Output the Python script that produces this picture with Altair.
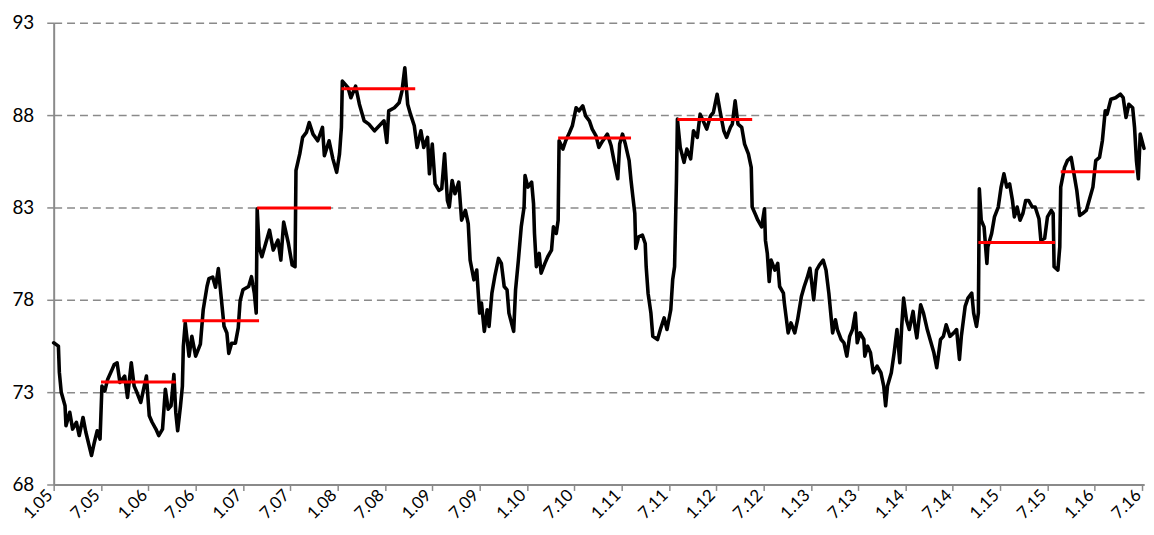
import altair as alt
import pandas as pd

# time in fractional years, price values
t = [
    2005.00, 2005.05, 2005.06, 2005.08, 2005.12, 2005.13, 2005.17, 2005.20, 2005.24, 2005.27,
    2005.31, 2005.34, 2005.40, 2005.43, 2005.46, 2005.49, 2005.51, 2005.54, 2005.57, 2005.61,
    2005.64, 2005.67, 2005.70, 2005.75, 2005.78, 2005.82, 2005.85, 2005.88, 2005.92, 2005.95,
    2005.98, 2006.01, 2006.04, 2006.08, 2006.11, 2006.15, 2006.18, 2006.21, 2006.24, 2006.27,
    2006.29, 2006.31, 2006.34, 2006.36, 2006.37, 2006.39, 2006.43, 2006.46, 2006.50, 2006.55,
    2006.58, 2006.62, 2006.64, 2006.68, 2006.71, 2006.74, 2006.77, 2006.80, 2006.83, 2006.85,
    2006.88, 2006.92, 2006.95, 2006.97, 2007.00, 2007.06, 2007.09, 2007.12, 2007.14, 2007.15,
    2007.17, 2007.20, 2007.23, 2007.28, 2007.32, 2007.37, 2007.40, 2007.43, 2007.48, 2007.52,
    2007.55, 2007.56, 2007.60, 2007.63, 2007.67, 2007.70, 2007.74, 2007.79, 2007.84, 2007.86,
    2007.91, 2007.95, 2007.99, 2008.02, 2008.04, 2008.05, 2008.11, 2008.14, 2008.19, 2008.23,
    2008.28, 2008.33, 2008.39, 2008.44, 2008.49, 2008.52, 2008.54, 2008.60, 2008.65, 2008.68,
    2008.71, 2008.74, 2008.77, 2008.81, 2008.84, 2008.88, 2008.91, 2008.95, 2008.97, 2009.00,
    2009.03, 2009.07, 2009.10, 2009.13, 2009.16, 2009.18, 2009.21, 2009.24, 2009.28, 2009.31,
    2009.35, 2009.38, 2009.40, 2009.44, 2009.47, 2009.50, 2009.52, 2009.55, 2009.58, 2009.60,
    2009.63, 2009.66, 2009.70, 2009.73, 2009.76, 2009.79, 2009.81, 2009.86, 2009.88, 2009.91,
    2009.94, 2009.97, 2009.98, 2010.01, 2010.05, 2010.07, 2010.08, 2010.10, 2010.13, 2010.15,
    2010.19, 2010.22, 2010.26, 2010.28, 2010.31, 2010.33, 2010.34, 2010.38, 2010.41, 2010.45,
    2010.48, 2010.52, 2010.55, 2010.59, 2010.62, 2010.66, 2010.69, 2010.73, 2010.76, 2010.80,
    2010.85, 2010.89, 2010.92, 2010.96, 2010.98, 2011.01, 2011.04, 2011.08, 2011.10, 2011.12,
    2011.14, 2011.15, 2011.18, 2011.22, 2011.25, 2011.26, 2011.28, 2011.31, 2011.33, 2011.38,
    2011.41, 2011.45, 2011.48, 2011.52, 2011.54, 2011.56, 2011.58, 2011.59, 2011.62, 2011.66,
    2011.69, 2011.73, 2011.76, 2011.80, 2011.83, 2011.87, 2011.90, 2011.94, 2011.97, 2012.01,
    2012.04, 2012.08, 2012.11, 2012.15, 2012.17, 2012.20, 2012.23, 2012.27, 2012.30, 2012.34,
    2012.37, 2012.38, 2012.41, 2012.44, 2012.48, 2012.51, 2012.52, 2012.54, 2012.56, 2012.58,
    2012.62, 2012.65, 2012.67, 2012.71, 2012.72, 2012.76, 2012.79, 2012.83, 2012.86, 2012.90,
    2012.93, 2012.96, 2012.99, 2013.01, 2013.03, 2013.06, 2013.09, 2013.13, 2013.16, 2013.19,
    2013.21, 2013.23, 2013.26, 2013.28, 2013.32, 2013.35, 2013.38, 2013.41, 2013.44, 2013.47,
    2013.49, 2013.52, 2013.56, 2013.57, 2013.60, 2013.63, 2013.66, 2013.70, 2013.74, 2013.77,
    2013.79, 2013.81, 2013.85, 2013.88, 2013.91, 2013.94, 2013.96, 2013.98, 2014.01, 2014.04,
    2014.08, 2014.10, 2014.12, 2014.16, 2014.19, 2014.23, 2014.26, 2014.30, 2014.33, 2014.37,
    2014.40, 2014.43, 2014.47, 2014.51, 2014.54, 2014.57, 2014.59, 2014.63, 2014.66, 2014.70,
    2014.72, 2014.75, 2014.77, 2014.78, 2014.80, 2014.83, 2014.86, 2014.87, 2014.91, 2014.94,
    2014.98, 2015.01, 2015.04, 2015.07, 2015.10, 2015.13, 2015.15, 2015.18, 2015.21, 2015.24,
    2015.27, 2015.30, 2015.34, 2015.37, 2015.41, 2015.43, 2015.47, 2015.50, 2015.54, 2015.56,
    2015.57, 2015.61, 2015.63, 2015.64, 2015.68, 2015.71, 2015.75, 2015.78, 2015.81, 2015.84,
    2015.87, 2015.91, 2015.94, 2015.98, 2016.01, 2016.05, 2016.08, 2016.11, 2016.13, 2016.17,
    2016.22, 2016.27, 2016.30, 2016.33, 2016.36, 2016.40, 2016.42, 2016.44, 2016.46, 2016.48,
    2016.52,
]

price = [
    75.67, 75.49, 74.07, 72.99, 72.26, 71.18, 71.91, 71.00, 71.37, 70.65,
    71.63, 70.83, 69.57, 70.29, 70.91, 70.46, 73.33, 73.06, 73.69, 74.14,
    74.50, 74.59, 73.52, 73.87, 72.71, 74.59, 73.33, 72.98, 72.44, 73.16,
    73.87, 71.72, 71.37, 71.00, 70.65, 71.00, 73.16, 72.08, 72.26, 73.96,
    71.90, 70.91, 72.26, 73.33, 75.49, 76.75, 74.95, 76.02, 74.95, 75.60,
    77.46, 78.72, 79.14, 79.23, 78.68, 79.69, 78.13, 76.57, 76.20, 75.10,
    75.65, 75.65, 76.48, 77.95, 78.54, 78.72, 79.25, 78.36, 77.28, 82.93,
    80.87, 80.33, 80.87, 81.77, 80.69, 81.23, 80.15, 82.21, 81.05, 79.88,
    79.79, 85.00, 85.90, 86.79, 87.06, 87.60, 86.97, 86.61, 87.33, 85.80,
    86.61, 85.63, 84.90, 85.90, 87.33, 89.84, 89.48, 88.94, 89.57, 88.59,
    87.69, 87.51, 87.15, 87.42, 87.69, 86.52, 88.23, 88.40, 88.67, 89.30,
    90.56, 88.59, 88.05, 87.42, 86.25, 87.15, 86.25, 86.79, 84.82, 86.43,
    84.28, 83.92, 84.01, 85.90, 83.38, 83.02, 84.46, 83.74, 84.37, 82.31,
    82.84, 82.13, 80.15, 79.08, 79.61, 77.28, 77.82, 76.29, 77.46, 76.56,
    78.36, 79.25, 80.24, 79.97, 78.72, 78.54, 77.28, 76.29, 78.54, 80.15,
    81.95, 83.02, 84.73, 84.10, 84.37, 83.20, 81.59, 79.79, 80.51, 79.44,
    79.97, 80.33, 80.69, 81.95, 81.59, 82.31, 86.61, 86.16, 86.61, 87.06,
    87.42, 88.40, 88.23, 88.50, 87.96, 87.69, 87.24, 86.88, 86.25, 86.60,
    86.97, 86.34, 85.53, 84.55, 86.43, 86.97, 86.43, 85.53, 84.46, 83.56,
    82.67, 80.78, 81.41, 81.50, 81.05, 79.79, 78.36, 77.28, 76.02, 75.85,
    76.39, 77.02, 76.39, 77.46, 79.08, 79.79, 84.46, 87.78, 86.25, 85.44,
    86.16, 85.63, 87.15, 86.79, 88.05, 87.60, 87.24, 87.96, 88.14, 89.13,
    88.23, 87.15, 86.79, 87.33, 87.51, 88.77, 87.51, 87.33, 86.43, 85.90,
    85.17, 83.02, 82.67, 82.31, 81.95, 82.93, 81.23, 80.51, 78.99, 80.15,
    79.61, 79.97, 78.72, 78.36, 77.82, 76.21, 76.75, 76.21, 76.92, 78.18,
    78.72, 79.17, 79.71, 78.90, 78.00, 79.61, 79.88, 80.15, 79.61, 78.36,
    77.28, 76.21, 76.92, 76.39, 75.85, 75.67, 74.95, 76.02, 76.39, 77.28,
    75.67, 76.21, 75.85, 74.95, 75.49, 75.13, 74.05, 74.41, 74.05, 73.33,
    72.26, 73.33, 74.05, 75.13, 76.39, 74.59, 76.56, 78.09, 76.92, 76.39,
    77.37, 76.56, 75.94, 77.73, 77.28, 76.39, 75.85, 75.13, 74.32, 75.85,
    76.02, 76.65, 76.02, 76.21, 76.39, 74.77, 76.02, 77.64, 78.09, 78.36,
    77.28, 76.56, 77.28, 84.01, 82.31, 81.95, 79.97, 80.87, 81.59, 82.49,
    83.02, 84.10, 84.82, 84.10, 84.28, 83.38, 82.49, 83.02, 82.31, 82.67,
    83.38, 83.38, 83.02, 83.02, 82.39, 81.23, 81.32, 82.49, 82.84, 82.67,
    79.79, 79.61, 80.87, 84.10, 85.17, 85.53, 85.71, 84.82, 83.92, 82.57,
    82.67, 82.84, 83.38, 84.10, 85.53, 85.71, 86.61, 88.23, 88.05, 88.86,
    88.94, 89.13, 88.94, 87.87, 88.59, 88.40, 87.33, 85.53, 84.55, 86.97,
    86.20,
]

# red period averages
seg_start = [2005.50, 2006.36, 2007.15, 2008.04, 2010.33, 2011.59, 2014.77, 2015.64]
seg_end = [2006.29, 2007.17, 2007.93, 2008.82, 2011.10, 2012.38, 2015.58, 2016.42]
seg_value = [73.55, 76.87, 82.97, 89.43, 86.76, 87.76, 81.10, 84.93]

# axes
tick_years = [2005.0, 2005.5, 2006.0, 2006.5, 2007.0, 2007.5, 2008.0, 2008.5,
              2009.0, 2009.5, 2010.0, 2010.5, 2011.0, 2011.5, 2012.0, 2012.5,
              2013.0, 2013.5, 2014.0, 2014.5, 2015.0, 2015.5, 2016.0, 2016.5]
tick_labels = ["1.05", "7.05", "1.06", "7.06", "1.07", "7.07", "1.08", "7.08",
               "1.09", "7.09", "1.10", "7.10", "1.11", "7.11", "1.12", "7.12",
               "1.13", "7.13", "1.14", "7.14", "1.15", "7.15", "1.16", "7.16"]
y_ticks = [68, 73, 78, 83, 88, 93]

df = pd.DataFrame({"t": t, "price": price})
segs = pd.DataFrame({"start": seg_start, "end": seg_end, "value": seg_value})

label_expr = ("[" + ",".join(repr(s) for s in tick_labels) +
              "][round((datum.value - 2005) * 2)]")

x_scale = alt.Scale(domain=[2005, 2016.52], nice=False, zero=False)
y_scale = alt.Scale(domain=[68, 93], nice=False, zero=False)

GREY = "#8a8a8a"

line = alt.Chart(df).mark_line(
    color="black", strokeWidth=3.6, strokeJoin="round", strokeCap="round"
).encode(
    x=alt.X("t:Q", scale=x_scale, axis=alt.Axis(
        values=tick_years, labelExpr=label_expr, labelAngle=-45,
        labelAlign="right", labelBaseline="middle", labelPadding=2,
        labelOffset=-4, tickSize=6, grid=False, title=None,
        labelFontSize=17, labelOverlap=False)),
    y=alt.Y("price:Q", scale=y_scale, axis=alt.Axis(
        values=y_ticks, grid=True, gridDash=[8, 5], gridColor=GREY,
        gridWidth=1.5, tickSize=7, labelPadding=13, title=None,
        labelFontSize=19)),
)

rules = alt.Chart(segs).mark_rule(color="#ff0000", strokeWidth=3).encode(
    x="start:Q", x2="end:Q", y="value:Q"
)

chart = alt.layer(line, rules).properties(
    width=1098, height=465,
    padding={"left": 46, "top": 13, "right": 2, "bottom": 46},
    autosize=alt.AutoSizeParams(type="none"),
).configure_view(stroke=None).configure_axis(
    labelFont="Lato", labelColor="black", domainColor=GREY, domainWidth=2,
    tickColor=GREY, tickWidth=1.5,
)

chart.save("out.html", embed_options={"renderer": "svg", "actions": False})
